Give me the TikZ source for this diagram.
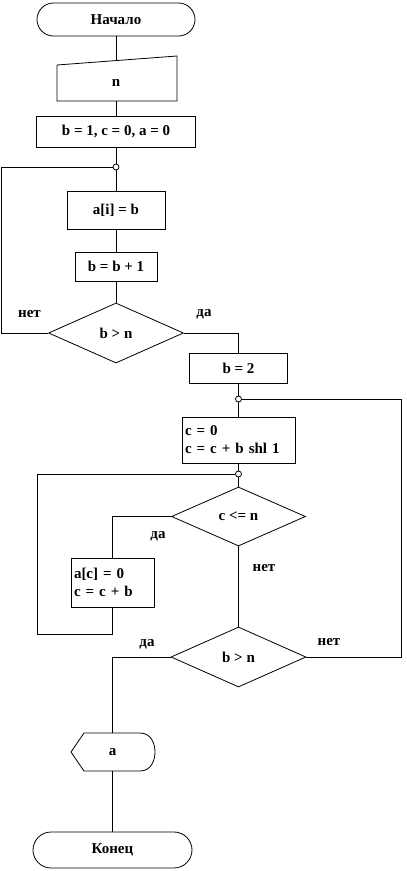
\documentclass[tikz,border=0pt]{standalone}
\usepackage{fontspec}
\setmainfont{Liberation Serif}
\usetikzlibrary{shapes.geometric}
\begin{document}
\begin{tikzpicture}[x=1pt,y=-1pt, line width=0.8pt,
  every node/.style={font=\fontsize{15}{18}\selectfont\bfseries},
  proc/.style={draw, rectangle, inner sep=0},
  dec/.style={draw, diamond, inner sep=0},
  term/.style={draw, rectangle, inner sep=0},
  lbl/.style={inner sep=0},
  hid/.style={rectangle, inner sep=0},
  junc/.style={draw, circle, fill=white, minimum size=6pt, inner sep=0}]
\useasboundingbox (0,0) rectangle (407,871);

% top terminator
\node[term, rounded corners=16.5pt, minimum width=158pt, minimum height=33pt] (start) at (116,19.5) {Начало};
% manual input
\draw (57,65) -- (177,56) -- (177,101) -- (57,101) -- cycle;
\node[hid, minimum width=120pt, minimum height=36pt] (in) at (116,83) {n};
\coordinate (intop) at (116,60.8);
% init
\node[proc, minimum width=159pt, minimum height=31pt] (init) at (116,131.5) {b = 1, c = 0, a = 0};
\node[junc] (j1) at (116,167) {};
\node[proc, minimum width=98pt, minimum height=38pt] (ai) at (116,210) {a[i] = b};
\node[proc, minimum width=82pt, minimum height=29pt] (bb) at (116,266.5) {b = b + 1};
\node[dec, minimum width=135pt, minimum height=60pt] (d1) at (116,333) {b > n};
\coordinate (l1) at (1,333);
\coordinate (l1t) at (1,167);
\node[lbl] (no1) at (29.5,314) {нет};
\node[lbl] (yes1) at (204,314) {да};

\node[proc, minimum width=98pt, minimum height=30pt] (b2) at (238.5,368) {b = 2};
\node[junc] (j2) at (238.5,399) {};
\node[proc, text width=107pt, inner xsep=3pt, align=left, minimum height=46pt] (cb) at (238.5,440) {c = 0\\c = c + b shl 1};
\node[junc] (j3) at (238.5,474) {};
\node[dec, minimum width=134pt, minimum height=59pt] (d2) at (238.5,516.5) {c <= n};
\node[proc, text width=77pt, inner xsep=3pt, align=left, minimum height=49pt] (ac) at (112.5,582.5) {a[c] = 0\\c = c + b};
\node[lbl] (yes2) at (158,536) {да};
\node[lbl] (no2) at (264,568) {нет};
\coordinate (l2a) at (37,474);
\coordinate (l2b) at (37,634);
\coordinate (l2c) at (112.5,634);

\node[dec, minimum width=135pt, minimum height=60pt] (d3) at (238.5,657) {b > n};
\node[lbl] (yes3) at (147,644) {да};
\node[lbl] (no3) at (329,642) {нет};
\coordinate (r3) at (401,657);
\coordinate (r3t) at (401,399);

% display
\draw (71,752) -- (84,733) -- (140,733) .. controls (152,733) and (155,745) .. (155,752) .. controls (155,759) and (152,771) .. (140,771) -- (84,771) -- cycle;
\node[hid, minimum width=84pt, minimum height=38pt] (out) at (112.5,752) {a};

\node[term, rounded corners=18pt, minimum width=159pt, minimum height=36pt] (end) at (112.5,850) {Конец};

% connectors
\draw (start.south) -- (intop);
\draw (in.south) -- (init.north);
\draw (init.south) -- (j1.north);
\draw (j1.south) -- (ai.north);
\draw (ai.south) -- (bb.north);
\draw (bb.south) -- (d1.north);
\draw (d1.west) -- (l1) -- (l1t) -- (j1.west);
\draw (d1.east) -| (b2.north);
\draw (b2.south) -- (j2.north);
\draw (j2.south) -- (cb.north);
\draw (cb.south) -- (j3.north);
\draw (j3.south) -- (d2.north);
\draw (j3.west) -- (l2a) -- (l2b) -- (l2c) -- (ac.south);
\draw (d2.west) -| (ac.north);
\draw (d2.south) -- (d3.north);
\draw (d3.east) -- (r3) -- (r3t) -- (j2.east);
\draw (d3.west) -| (out.north);
\draw (out.south) -- (end.north);
\end{tikzpicture}
\end{document}
